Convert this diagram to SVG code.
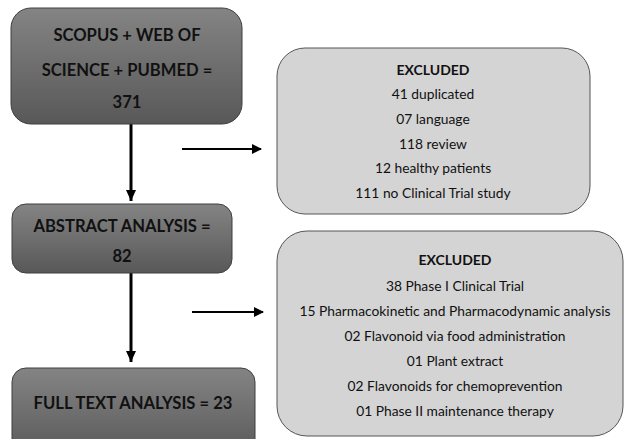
<svg xmlns="http://www.w3.org/2000/svg" width="624" height="439" viewBox="0 0 624 439">
<defs>
<linearGradient id="dark" x1="0" y1="0" x2="0" y2="1">
<stop offset="0" stop-color="#848484"/>
<stop offset="1" stop-color="#585858"/>
</linearGradient>
<marker id="ah" markerWidth="10" markerHeight="10" refX="9" refY="5" orient="auto" markerUnits="userSpaceOnUse">
<path d="M0,0 L10,5 L0,10 Z" fill="#000"/>
</marker>
<marker id="ahs" markerWidth="12" markerHeight="12" refX="11" refY="6" orient="auto" markerUnits="userSpaceOnUse">
<path d="M0,1 L11,6 L0,11 Z" fill="#000"/>
</marker>
</defs>
<style>
.dbox{fill:url(#dark);stroke:#3f3f3f;stroke-width:1}
.lbox{fill:#d4d4d4;stroke:#555;stroke-width:1}
.bt{font-family:Lato,"Open Sans",sans-serif;font-weight:bold;font-size:16.6px;fill:#111;text-anchor:middle}
.ht{font-family:Lato,"Open Sans",sans-serif;font-weight:bold;font-size:14px;fill:#111;text-anchor:middle}
.rt{font-family:Lato,"Open Sans",sans-serif;font-size:13.8px;fill:#111;text-anchor:middle}
.v{stroke:#000;stroke-width:3;fill:none}
.h{stroke:#000;stroke-width:2;fill:none}
</style>
<g id="connectors">
<line class="v" x1="131" y1="124" x2="131" y2="201" marker-end="url(#ahs)"/>
<line class="h" x1="182" y1="149" x2="261" y2="149" marker-end="url(#ah)"/>
<line class="v" x1="131" y1="273" x2="131" y2="362" marker-end="url(#ahs)"/>
<line class="h" x1="192" y1="312" x2="263" y2="312" marker-end="url(#ah)"/>
</g>
<g id="n1">
<rect class="dbox" x="11" y="8" width="231" height="116" rx="20"/>
<text class="bt" x="127" y="41">SCOPUS + WEB OF</text>
<text class="bt" x="127" y="76">SCIENCE + PUBMED =</text>
<text class="bt" x="127" y="108">371</text>
</g>
<g id="n2">
<rect class="lbox" x="277" y="48" width="313" height="166" rx="28"/>
<text class="ht" x="433" y="75">EXCLUDED</text>
<text class="rt" x="433" y="99">41 duplicated</text>
<text class="rt" x="433" y="124">07 language</text>
<text class="rt" x="433" y="149">118 review</text>
<text class="rt" x="433" y="173">12 healthy patients</text>
<text class="rt" x="433" y="198">111 no Clinical Trial study</text>
</g>
<g id="n3">
<rect class="dbox" x="12" y="204" width="220" height="69" rx="14"/>
<text class="bt" x="122" y="232">ABSTRACT ANALYSIS =</text>
<text class="bt" x="122" y="262">82</text>
</g>
<g id="n4">
<rect class="dbox" x="12" y="368" width="243" height="90" rx="14"/>
<text class="bt" x="133" y="409">FULL TEXT ANALYSIS = 23</text>
</g>
<g id="n5">
<rect class="lbox" x="277" y="231" width="346" height="205" rx="30"/>
<text class="ht" x="455" y="265">EXCLUDED</text>
<text class="rt" x="455" y="291">38 Phase I Clinical Trial</text>
<text class="rt" x="455" y="316">15 Pharmacokinetic and Pharmacodynamic analysis</text>
<text class="rt" x="455" y="341">02 Flavonoid via food administration</text>
<text class="rt" x="455" y="366">01 Plant extract</text>
<text class="rt" x="455" y="391">02 Flavonoids for chemoprevention</text>
<text class="rt" x="455" y="416">01 Phase II maintenance therapy</text>
</g>
</svg>
